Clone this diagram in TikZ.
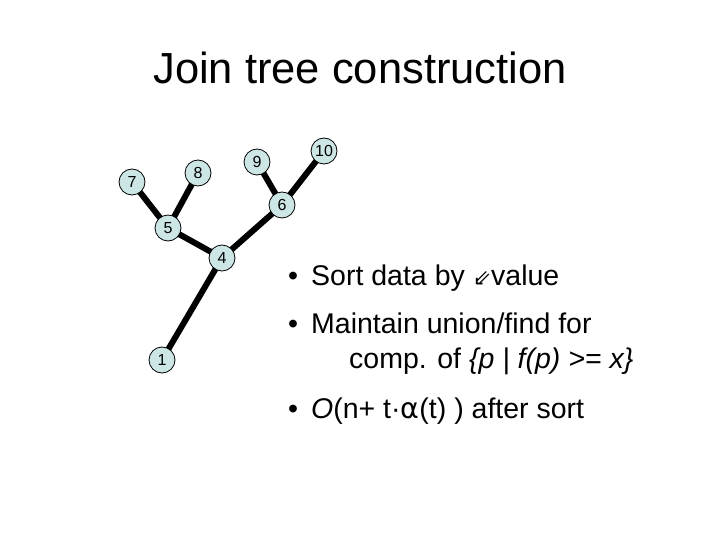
\documentclass[tikz,border=0pt]{standalone}
\usepackage{fontspec}
\setmainfont{Liberation Sans}
\newfontfamily\dv{DejaVu Sans}
\definecolor{nodefill}{HTML}{CCE6E6}
\begin{document}
\begin{tikzpicture}[x=1pt,y=-1pt,
  vert/.style={circle,draw=black,fill=nodefill,line width=0.8pt,minimum size=26pt,inner sep=0pt,font=\fontsize{16}{16}\selectfont},
  edge/.style={line width=6pt},
  txt/.style={anchor=base west,font=\fontsize{28.5}{30}\selectfont,inner sep=0pt}]
\useasboundingbox (0,0) rectangle (720,540);
\node[font=\fontsize{43.5}{45}\selectfont] (title) at (360,68) {Join tree construction};
\coordinate (c7) at (132,182);
\coordinate (c8) at (198,173);
\coordinate (c9) at (257,162);
\coordinate (c10) at (324,151);
\coordinate (c6) at (282,205);
\coordinate (c5) at (168,228);
\coordinate (c4) at (222,258);
\coordinate (c1) at (162,360);
\draw[edge] (c7) -- (c5);
\draw[edge] (c8) -- (c5);
\draw[edge] (c9) -- (c6);
\draw[edge] (c10) -- (c6);
\draw[edge] (c5) -- (c4);
\draw[edge] (c6) -- (c4);
\draw[edge] (c4) -- (c1);
\node[vert] (n7) at (c7) {7};\node[vert] (n8) at (c8) {8};\node[vert] (n9) at (c9) {9};\node[vert] (n10) at (c10) {10};
\node[vert] (n6) at (c6) {6};\node[vert] (n5) at (c5) {5};\node[vert] (n4) at (c4) {4};\node[vert] (n1) at (c1) {1};
\node[txt] (b1) at (288,285) {\textbullet};
\node[txt] (t1) at (311,285) {Sort data by {\dv\fontsize{22}{22}\selectfont ⇙}value};
\node[txt] (b2) at (288,333) {\textbullet};
\node[txt] (t2) at (311,333) {Maintain union/find for};
\node[txt] (t3) at (349,368) {comp. of \textit{\{p | f(p) >= x\}}};
\node[txt] (b3) at (288,418) {\textbullet};
\node[txt] (t4) at (311,418) {\textit{O}(n+ t·{\dv α}(t) ) after sort};
\end{tikzpicture}
\end{document}
